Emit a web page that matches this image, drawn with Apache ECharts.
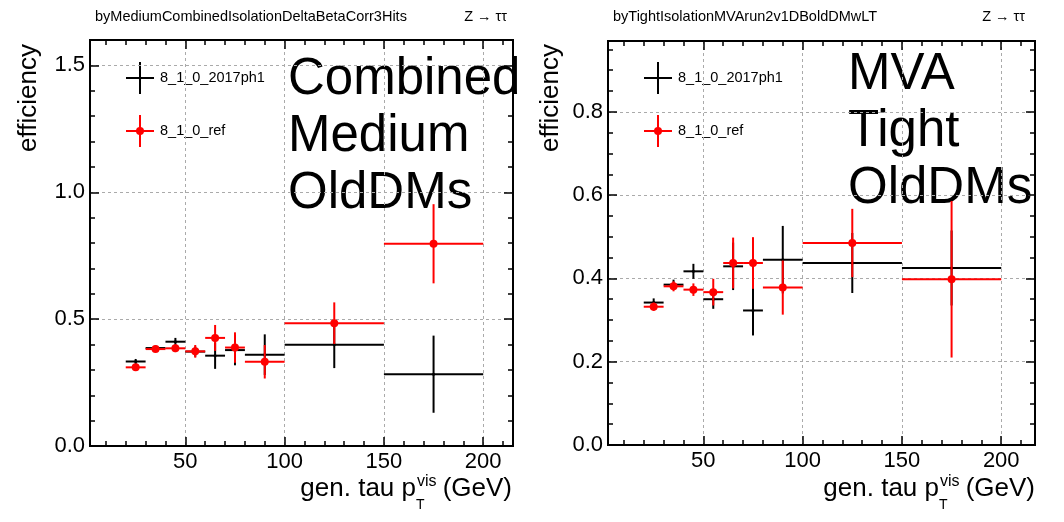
<!DOCTYPE html>
<html>
<head>
<meta charset="utf-8">
<script src="https://cdn.jsdelivr.net/npm/echarts@6/dist/echarts.min.js"></script>
<style>
html, body { margin: 0; padding: 0; background: #fff; }
#main { width: 1064px; height: 522px; }
</style>
</head>
<body>
<div id="main"></div>
<script>
// bins of gen. tau pT (GeV)
const binLo = [20, 30, 40, 50, 60, 70, 80, 100, 150];
const binHi = [30, 40, 50, 60, 70, 80, 100, 150, 200];

// Combined Medium OldDMs
const cmbPh1    = [0.333, 0.386, 0.411, 0.372, 0.356, 0.378, 0.360, 0.399, 0.283];
const cmbPh1Err = [0.010, 0.010, 0.015, 0.020, 0.052, 0.060, 0.080, 0.092, 0.152];
const cmbRef    = [0.310, 0.382, 0.385, 0.373, 0.426, 0.388, 0.332, 0.484, 0.797];
const cmbRefErr = [0.013, 0.010, 0.015, 0.025, 0.051, 0.060, 0.066, 0.082, 0.156];

// MVA Tight OldDMs
const mvaPh1    = [0.342, 0.385, 0.417, 0.350, 0.429, 0.323, 0.445, 0.437, 0.425];
const mvaPh1Err = [0.010, 0.012, 0.018, 0.023, 0.057, 0.060, 0.081, 0.072, 0.090];
const mvaRef    = [0.332, 0.381, 0.373, 0.367, 0.437, 0.437, 0.378, 0.485, 0.398];
const mvaRefErr = [0.010, 0.012, 0.015, 0.032, 0.061, 0.062, 0.065, 0.082, 0.188];

// ticks
const xMajor = [50, 100, 150, 200];
const xMinor = [10, 20, 30, 40, 60, 70, 80, 90, 110, 120, 130, 140, 160, 170, 180, 190, 210];
const yMajorL = [0, 0.5, 1.0, 1.5];
const yMinorL = [0.1, 0.2, 0.3, 0.4, 0.6, 0.7, 0.8, 0.9, 1.1, 1.2, 1.3, 1.4];
const yMajorR = [0, 0.2, 0.4, 0.6, 0.8];
const yMinorR = [0.05, 0.1, 0.15, 0.25, 0.3, 0.35, 0.45, 0.5, 0.55, 0.65, 0.7, 0.75, 0.85, 0.9, 0.95];

const FONT = 'Liberation Sans';
const LEGEND = ['8_1_0_2017ph1', '8_1_0_ref'];

function mkAxis(grid, pos, min, max, ticks, len, labels, split, fmt) {
    return {
        type: 'value', gridIndex: grid, position: pos, min: min, max: max,
        axisLine: { show: true, onZero: false, lineStyle: { color: '#000', width: 2 } },
        axisTick: { show: true, inside: true, length: len, customValues: ticks, lineStyle: { color: '#000', width: 1.5 } },
        axisLabel: {
            show: labels, customValues: ticks, margin: 5,
            fontSize: 22, color: '#000', fontFamily: FONT, formatter: fmt
        },
        splitLine: { show: split, lineStyle: { color: '#aaa', type: [3, 3], width: 1 } },
        minorTick: { show: false }
    };
}

const fx = v => String(v);
const fy = v => v.toFixed(1);

function axesFor(grid, xmin, xmax, ymax, yMaj, yMin) {
    const xs = [
        mkAxis(grid, 'bottom', xmin, xmax, xMajor, 9, true, true, fx),
        mkAxis(grid, 'top', xmin, xmax, xMajor, 9, false, false, fx),
        mkAxis(grid, 'bottom', xmin, xmax, xMinor, 5, false, false, fx),
        mkAxis(grid, 'top', xmin, xmax, xMinor, 5, false, false, fx)
    ];
    const ys = [
        mkAxis(grid, 'left', 0, ymax, yMaj, 9, true, true, fy),
        mkAxis(grid, 'right', 0, ymax, yMaj, 9, false, false, fy),
        mkAxis(grid, 'left', 0, ymax, yMin, 5, false, false, fy),
        mkAxis(grid, 'right', 0, ymax, yMin, 5, false, false, fy)
    ];
    return [xs, ys];
}

function errSeries(name, axisIdx, vals, errs, color, r) {
    return {
        type: 'custom', name: name,
        xAxisIndex: axisIdx, yAxisIndex: axisIdx,
        data: binLo.map((lo, i) => [lo, binHi[i], vals[i], errs[i]]),
        encode: { x: [0, 1], y: 2 },
        silent: true,
        renderItem: function (params, api) {
            const x0 = api.value(0), x1 = api.value(1), y = api.value(2), e = api.value(3);
            const xc = (x0 + x1) / 2;
            const pL = api.coord([x0, y]), pR = api.coord([x1, y]);
            const pT = api.coord([xc, y + e]), pB = api.coord([xc, y - e]);
            const pC = api.coord([xc, y]);
            return {
                type: 'group', children: [
                    { type: 'line', shape: { x1: pL[0], y1: pL[1], x2: pR[0], y2: pR[1] }, style: { stroke: color, lineWidth: 2 } },
                    { type: 'line', shape: { x1: pT[0], y1: pT[1], x2: pB[0], y2: pB[1] }, style: { stroke: color, lineWidth: 2 } },
                    { type: 'circle', shape: { cx: pC[0], cy: pC[1], r: r }, style: { fill: color } }
                ]
            };
        }
    };
}

// panel text / legend, dx = horizontal offset of the panel
function panelGraphics(dx, topText, bigLines, bigX, bigY0, ytX, xr) {
    const g = [];
    const txt = (x, y, text, size, align, extra) => Object.assign({
        type: 'text', x: x, y: y, silent: true,
        style: { text: text, fontSize: size, fontFamily: FONT, fill: '#000', align: align, verticalAlign: 'middle' }
    }, extra || {});

    g.push(txt(95 + dx, 17, topText, 14.5, 'left'));
    g.push(txt(507 + dx, 17, 'Z \u2192 \u03c4\u03c4', 14.5, 'right'));

    // legend
    const leg = [[78, '#000', 1.5], [131, '#ff0000', 4]];
    leg.forEach((l, i) => {
        const cx = 140 + dx, cy = l[0];
        g.push({ type: 'line', silent: true, shape: { x1: cx - 14, y1: cy, x2: cx + 14, y2: cy }, style: { stroke: l[1], lineWidth: 2 } });
        g.push({ type: 'line', silent: true, shape: { x1: cx, y1: cy - 16, x2: cx, y2: cy + 16 }, style: { stroke: l[1], lineWidth: 2 } });
        g.push({ type: 'circle', silent: true, shape: { cx: cx, cy: cy, r: l[2] }, style: { fill: l[1] } });
        g.push(txt(160 + dx, cy, LEGEND[i], 14.5, 'left'));
    });

    // big label
    bigLines.forEach((s, i) => g.push(txt(bigX, bigY0 + i * 57, s, 51, 'left')));

    // y title
    g.push(txt(ytX, 98, 'efficiency', 26, 'center', { rotation: Math.PI / 2 }));

    // x title: gen. tau p_T^vis (GeV)
    g.push(txt(xr - 96, 489, 'gen. tau p', 26, 'right'));
    g.push(txt(xr - 95, 482, 'vis', 16, 'left'));
    g.push(txt(xr - 96, 505, 'T', 14, 'left'));
    g.push(txt(xr, 489, '(GeV)', 26, 'right'));
    return g;
}

const [xL, yL] = axesFor(0, 2, 215, 1.6, yMajorL, yMinorL);
const [xR, yR] = axesFor(1, 2, 217, 0.97, yMajorR, yMinorR);

const chart = echarts.init(document.getElementById('main'), null, { renderer: 'canvas' });
const option = {
    animation: false,
    backgroundColor: '#fff',
    grid: [
        { left: 90, right: 551, top: 40, bottom: 76 },
        { left: 608, right: 29, top: 41, bottom: 77 }
    ],
    xAxis: xL.concat(xR),
    yAxis: yL.concat(yR),
    series: [
        errSeries(LEGEND[0], 0, cmbPh1, cmbPh1Err, '#000', 1.5),
        errSeries(LEGEND[1], 0, cmbRef, cmbRefErr, '#ff0000', 4),
        errSeries(LEGEND[0], 4, mvaPh1, mvaPh1Err, '#000', 1.5),
        errSeries(LEGEND[1], 4, mvaRef, mvaRefErr, '#ff0000', 4)
    ],
    graphic: panelGraphics(0, 'byMediumCombinedIsolationDeltaBetaCorr3Hits', ['Combined', 'Medium', 'OldDMs'], 288, 80, 29, 512)
        .concat(panelGraphics(518, 'byTightIsolationMVArun2v1DBoldDMwLT', ['MVA', 'Tight', 'OldDMs'], 848, 75, 551, 1035))
};
chart.setOption(option);
</script>
</body>
</html>
